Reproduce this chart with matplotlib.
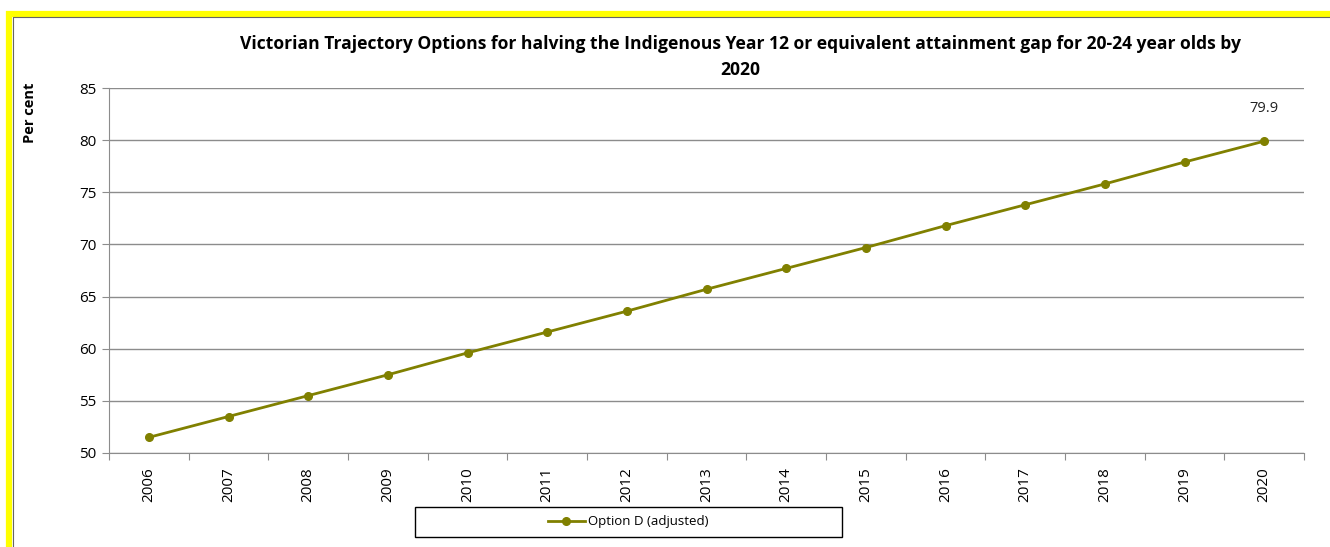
import matplotlib
matplotlib.use("Agg")
import matplotlib.pyplot as plt
from matplotlib.patches import Rectangle
from matplotlib.lines import Line2D

# Données de la trajectoire (Option D ajustée)
annees = ["2006", "2007", "2008", "2009", "2010", "2011", "2012", "2013",
          "2014", "2015", "2016", "2017", "2018", "2019", "2020"]
option_d = [51.5, 53.5, 55.5, 57.5, 59.6, 61.6, 63.6, 65.7,
            67.7, 69.7, 71.8, 73.8, 75.8, 77.9, 79.9]
y_ticks = [50, 55, 60, 65, 70, 75, 80, 85]

plt.rcParams["font.family"] = ["Open Sans", "DejaVu Sans"]
olive = "#808000"
gris = "#8c8c8c"

fig = plt.figure(figsize=(13.3, 5.47), dpi=100)
ax = fig.add_axes([109 / 1330, 1 - 453 / 547, 1195 / 1330, 365 / 547])

x = list(range(len(annees)))
ax.plot(x, option_d, color=olive, lw=2, marker="o", ms=5.5,
        label="Option D (adjusted)")
ax.annotate(f"{option_d[-1]}", (x[-1], option_d[-1]), xytext=(0, 18),
            textcoords="offset points", ha="center", va="bottom",
            fontsize=10.5, color="#222222")

ax.set_xlim(-0.5, len(annees) - 0.5)
ax.set_ylim(50, 85)
ax.set_yticks(y_ticks)
ax.set_yticklabels([str(v) for v in y_ticks], fontsize=11)
ax.set_xticks([i - 0.5 for i in range(len(annees) + 1)])
ax.set_xticklabels([])
ax.set_xticks(x, minor=True)
ax.set_xticklabels(annees, minor=True, rotation=90, fontsize=11)
ax.tick_params(axis="x", which="minor", length=0, pad=10)
ax.tick_params(axis="x", which="major", length=5, color=gris, direction="out")
ax.tick_params(axis="y", length=5, color=gris, direction="out", pad=4)
ax.grid(axis="y", color=gris, lw=1)
ax.set_axisbelow(True)
for s in ["top", "right"]:
    ax.spines[s].set_visible(False)
for s in ["left", "bottom"]:
    ax.spines[s].set_color(gris)

fig.text(740 / 1330, 1 - 57 / 547,
         "Victorian Trajectory Options for halving the Indigenous Year 12 "
         "or equivalent attainment gap for 20-24 year olds by\n2020",
         ha="center", va="center", fontsize=12.6, fontweight="bold",
         linespacing=1.55)
fig.text(30 / 1330, 1 - 113 / 547, "Per cent", rotation=90, ha="center",
         va="center", fontsize=10.5, fontweight="bold")

# légende : cadre noir + contenu centré
fig.patches.append(Rectangle((415 / 1330, 1 - 537 / 547), 427 / 1330, 30 / 547,
                             transform=fig.transFigure, fill=True,
                             facecolor="white", edgecolor="black", lw=1))
leg_handle = Line2D([], [], color=olive, lw=2, marker="o", ms=5.5)
leg = fig.legend([leg_handle], ["Option D (adjusted)"], loc="center",
                 bbox_to_anchor=(628 / 1330, 1 - 522 / 547),
                 fontsize=9.5, frameon=False, handlelength=2.8,
                 handletextpad=0.2, borderaxespad=0)

# cadre jaune
fig.patches.append(Rectangle((9 / 1330, -0.05), 1.1, 1 - 14 / 547 + 0.05,
                             transform=fig.transFigure, fill=False,
                             edgecolor="#ffff00", lw=4.5, zorder=0))
fig.lines.append(Line2D([12.5 / 1330, 12.5 / 1330, 1], [0, 1 - 16.5 / 547, 1 - 16.5 / 547],
                        transform=fig.transFigure, color="#666666", lw=0.8))

fig.savefig("out.png", dpi=100)
